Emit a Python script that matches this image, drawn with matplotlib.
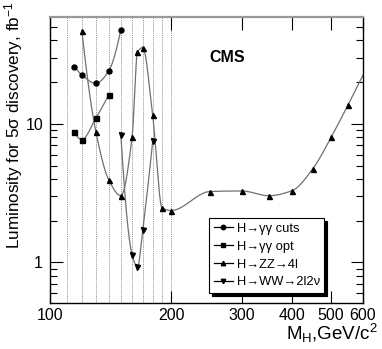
import numpy as np
import matplotlib
matplotlib.use("Agg")
import matplotlib.pyplot as plt
from matplotlib.ticker import FixedLocator, NullFormatter, FixedFormatter

plt.rcParams['font.family'] = ['Liberation Sans', 'DejaVu Sans']
plt.rcParams['mathtext.fontset'] = 'custom'
plt.rcParams['mathtext.rm'] = 'Liberation Sans'
plt.rcParams['mathtext.it'] = 'Liberation Sans'
plt.rcParams['mathtext.bf'] = 'Liberation Sans:bold'

# ---- data ----
gg_cuts_m = [115, 120, 130, 140, 150]
gg_cuts_L = [25.9, 22.5, 19.6, 24.1, 47.6]

gg_opt_m = [115, 120, 130, 140]
gg_opt_L = [8.75, 7.7, 11.0, 16.2]

zz_m = [120, 130, 140, 150, 160, 165, 170, 180, 190, 200, 250, 300, 350, 400, 450, 500, 550, 600]
zz_L = [46.8, 8.8, 3.94, 3.03, 8.1, 32.9, 35.5, 11.5, 2.47, 2.37, 3.25, 3.28, 3.03, 3.3, 4.74, 8.0, 13.6, 22.5]

ww_m = [150, 160, 165, 170, 180]
ww_L = [8.33, 1.14, 0.92, 1.72, 7.5]

grid_masses = [110, 120, 130, 140, 150, 160, 170, 180, 190, 200]
xtick_vals = [100, 200, 300, 400, 500, 600]
xtick_labels = ['100', '200', '300', '400', '500', '600']

legend_labels = ['H\u2192\u03b3\u03b3 cuts', 'H\u2192\u03b3\u03b3 opt',
                 'H\u2192ZZ\u21924l', 'H\u2192WW\u21922l2\u03bd']


def pchip(x, y, n=60):
    x = np.asarray(x, float); y = np.asarray(y, float)
    h = np.diff(x); d = np.diff(y) / h
    N = len(x)
    m = np.zeros(N)
    for i in range(1, N - 1):
        if d[i - 1] * d[i] > 0:
            w1 = 2 * h[i] + h[i - 1]; w2 = h[i] + 2 * h[i - 1]
            m[i] = (w1 + w2) / (w1 / d[i - 1] + w2 / d[i])
    m[0] = d[0]; m[-1] = d[-1]
    if N > 2:
        m[0] = ((2 * h[0] + h[1]) * d[0] - h[0] * d[1]) / (h[0] + h[1])
        if np.sign(m[0]) != np.sign(d[0]):
            m[0] = 0
        m[-1] = ((2 * h[-1] + h[-2]) * d[-1] - h[-1] * d[-2]) / (h[-1] + h[-2])
        if np.sign(m[-1]) != np.sign(d[-1]):
            m[-1] = 0
    xs, ys = [], []
    for i in range(N - 1):
        t = np.linspace(0, 1, n, endpoint=(i == N - 2))
        h00 = 2 * t**3 - 3 * t**2 + 1; h10 = t**3 - 2 * t**2 + t
        h01 = -2 * t**3 + 3 * t**2; h11 = t**3 - t**2
        xs.append(x[i] + t * h[i])
        ys.append(h00 * y[i] + h10 * h[i] * m[i] + h01 * y[i + 1] + h11 * h[i] * m[i + 1])
    return np.concatenate(xs), np.concatenate(ys)


def smooth(m, L):
    xs, ys = pchip(np.log(m), np.log(L))
    return np.exp(xs), np.exp(ys)


fig = plt.figure(figsize=(3.82, 3.49), dpi=100)
ax = fig.add_axes([0.1309, 0.1318, 0.8194, 0.8195])
ax.set_xscale('log'); ax.set_yscale('log')
ax.set_xlim(100, 600)
ax.set_ylim(0.51, 59)

for gm in grid_masses:
    ax.axvline(gm, color='#9a9a9a', lw=0.7, ls=(0, (1.2, 1.0)), zorder=1)

line_color = '#707070'
series = [
    (gg_cuts_m, gg_cuts_L, 'o', 3.6),
    (gg_opt_m, gg_opt_L, 's', 3.6),
    (zz_m, zz_L, '^', 3.6),
    (ww_m, ww_L, 'v', 3.6),
]
handles = []
for (m, L, mk, ms), lab in zip(series, legend_labels):
    sx, sy = smooth(m, L)
    ax.plot(sx, sy, color=line_color, lw=0.9, zorder=2)
    mm = np.asarray(m); LL = np.asarray(L)
    sel = mm < 600
    ax.plot(mm[sel], LL[sel], ls='none', marker=mk, ms=ms, color='black', zorder=3)
    h, = ax.plot([], [], color='black', lw=0.9, marker=mk, ms=3.2, label=lab)
    handles.append(h)

ax.xaxis.set_major_locator(FixedLocator(xtick_vals))
ax.xaxis.set_major_formatter(FixedFormatter(xtick_labels))
ax.xaxis.set_minor_locator(FixedLocator([]))
ax.xaxis.set_minor_formatter(NullFormatter())
ax.yaxis.set_major_locator(FixedLocator([1, 10]))
ax.yaxis.set_major_formatter(FixedFormatter(['1', '10']))
ax.yaxis.set_minor_locator(FixedLocator([0.6, 0.7, 0.8, 0.9, 2, 3, 4, 5, 6, 7, 8, 9, 20, 30, 40, 50]))
ax.yaxis.set_minor_formatter(NullFormatter())
ax.tick_params(which='both', direction='in', top=True, right=True, labelsize=11.5)
ax.tick_params(axis='x', pad=3.5)
ax.tick_params(axis='y', pad=5)
ax.tick_params(which='major', length=9, width=0.8)
ax.tick_params(which='minor', length=5, width=0.8)
for sp in ax.spines.values():
    sp.set_linewidth(1.0)
ax.spines['top'].set_color('#999999')
ax.spines['top'].set_linewidth(1.6)

ax.text(0.51, 0.86, 'CMS', transform=ax.transAxes, fontsize=11.5, fontweight='bold', va='center')

fig.text(0.988, 0.026, r'M$_{\mathrm{H}}$,GeV/c$^{2}$', ha='right', va='baseline', fontsize=13.5)
fig.text(0.036, 0.995, r'Luminosity for 5$\sigma$ discovery, fb$^{-1}$', rotation=90,
         ha='center', va='top', fontsize=12.3)

leg = ax.legend(handles=handles, loc='lower left', bbox_to_anchor=(0.508, 0.035, 0.367, 0.294),
                mode='expand', fontsize=9.3, handlelength=1.5, handletextpad=0.3,
                borderaxespad=0, labelspacing=0.45, borderpad=0.35, fancybox=False, frameon=True,
                shadow={'color': 'black', 'alpha': 1.0})
leg.get_frame().set_edgecolor('black')
leg.get_frame().set_linewidth(0.8)

fig.savefig('out.png', dpi=100)
